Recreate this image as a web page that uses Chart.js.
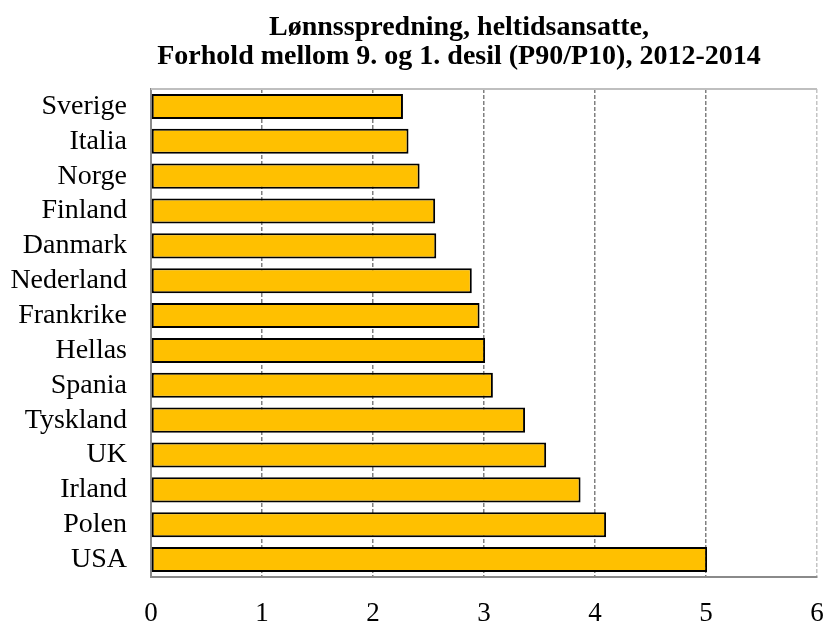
<!DOCTYPE html>
<html>
<head>
<meta charset="utf-8">
<script src="https://cdn.jsdelivr.net/npm/chart.js@4"></script>
<style>
  html, body { margin: 0; padding: 0; background: #ffffff; overflow: hidden; }
  #wrap { position: relative; width: 825px; height: 621px; }
</style>
</head>
<body>
<div id="wrap"><canvas id="c"></canvas></div>
<script>
// ---- data ----
const titleLines = [
  "Lønnsspredning, heltidsansatte,",
  "Forhold mellom 9. og 1. desil (P90/P10), 2012-2014"
];
const categories = ["Sverige", "Italia", "Norge", "Finland", "Danmark", "Nederland", "Frankrike",
                    "Hellas", "Spania", "Tyskland", "UK", "Irland", "Polen", "USA"];
const ratioP90P10 = [2.27, 2.32, 2.42, 2.56, 2.57, 2.89, 2.96, 3.01, 3.08, 3.37, 3.56, 3.87, 4.10, 5.01];
const xMin = 0, xMax = 6, xStep = 1;

// ---- style ----
const FONT = '"Liberation Serif", "Times New Roman", serif';

const titlePlugin = {
  id: 'twoLineTitle',
  afterDraw(chart) {
    const ctx = chart.ctx;
    ctx.save();
    ctx.fillStyle = '#000';
    ctx.font = 'bold 28px ' + FONT;
    ctx.textAlign = 'center';
    ctx.textBaseline = 'alphabetic';
    const cx = 459;
    ctx.fillText(titleLines[0], cx, 35);
    ctx.fillText(titleLines[1], cx, 64);
    ctx.restore();
  }
};

const frameTopPlugin = {
  id: 'frameTop',
  beforeDatasetsDraw(chart) {
    const a = chart.chartArea, ctx = chart.ctx;
    ctx.save();
    ctx.strokeStyle = '#bfbfbf';
    ctx.lineWidth = 2;
    ctx.beginPath();
    ctx.moveTo(a.left, a.top);
    ctx.lineTo(a.right, a.top);
    ctx.stroke();
    ctx.restore();
  }
};

new Chart(document.getElementById('c'), {
  type: 'bar',
  data: {
    labels: categories,
    datasets: [{
      data: ratioP90P10,
      backgroundColor: '#FFC000',
      borderColor: '#000000',
      borderWidth: 2,
      borderSkipped: false,
      categoryPercentage: 1.0,
      barPercentage: 0.72
    }]
  },
  plugins: [frameTopPlugin, titlePlugin],
  options: {
    indexAxis: 'y',
    responsive: true,
    maintainAspectRatio: false,
    animation: false,
    devicePixelRatio: 1,
    layout: { padding: { top: 89, left: 10, right: 8, bottom: 0 } },
    plugins: {
      legend: { display: false },
      title: { display: false },
      tooltip: { enabled: false }
    },
    scales: {
      x: {
        type: 'linear',
        min: xMin, max: xMax,
        ticks: {
          stepSize: xStep,
          color: '#000',
          padding: 0,
          font: { family: FONT, size: 27, lineHeight: 2.72 }
        },
        grid: {
          drawTicks: false,
          color: (c) => c.index === 0 ? 'rgba(0,0,0,0)' : (c.tick && c.tick.value === xMax ? '#c4c4c4' : '#808080'),
          lineWidth: 1.5
        },
        border: { display: true, color: '#8a8a8a', width: 2, dash: [4, 2] },
        afterFit(scale) { scale.height = 44; }
      },
      y: {
        ticks: {
          color: '#000',
          padding: 24,
          autoSkip: false,
          font: { family: FONT, size: 28 }
        },
        grid: { display: false, drawTicks: false },
        border: { display: true, color: '#8a8a8a', width: 2 },
        afterFit(scale) { scale.width = 141; }
      }
    }
  }
});
</script>
</body>
</html>
